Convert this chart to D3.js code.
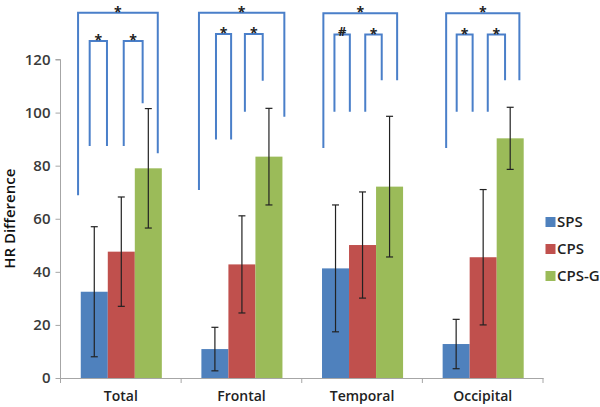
<!DOCTYPE html>
<html><head><meta charset="utf-8">
<script src="https://cdn.jsdelivr.net/npm/d3@7"></script>
<style>body{margin:0;background:#fff}svg{display:block}</style>
</head><body><svg id="c" width="600" height="407"></svg>
<script>
const categories = ["Total", "Frontal", "Temporal", "Occipital"];
const series = ["SPS", "CPS", "CPS-G"];
const colors = ["#4f81bd", "#c0504d", "#9bbb59"];
const spsValues  = [32.5, 10.9, 41.3, 12.8];
const spsErr     = [24.5, 8.2, 23.9, 9.3];
const cpsValues  = [47.6, 42.8, 50.1, 45.5];
const cpsErr     = [20.6, 18.3, 20.0, 25.5];
const cpsgValues = [79.0, 83.4, 72.1, 90.3];
const cpsgErr    = [22.5, 18.2, 26.5, 11.7];
const yTicks = [0, 20, 40, 60, 80, 100, 120];
// significance brackets: [category, from (bar index), to (bar index), top, leftEnd, rightEnd, label]
const brackets = [
  ["Total", -0.6, 2.35, 137.6, 68.9, 84.7, "*"],
  ["Total", -0.17, 0.47, 127.0, 87.4, 87.4, "*"],
  ["Total", 1.09, 1.79, 127.0, 87.4, 103.5, "*"],
  ["Frontal", -0.59, 2.57, 137.6, 70.8, 98.4, "*"],
  ["Frontal", 0.04, 0.6, 129.6, 89.9, 89.9, "*"],
  ["Frontal", 1.11, 1.77, 129.6, 100.3, 112.0, "*"],
  ["Temporal", -0.45, 2.28, 137.4, 86.7, 112.2, "*"],
  ["Temporal", -0.04, 0.53, 129.4, 100.3, 100.3, "#"],
  ["Temporal", 1.1, 1.71, 129.4, 100.3, 112.2, "*"],
  ["Occipital", -0.37, 2.34, 137.4, 86.7, 112.2, "*"],
  ["Occipital", 0.02, 0.61, 129.4, 100.3, 100.3, "*"],
  ["Occipital", 1.17, 1.81, 129.4, 100.3, 112.2, "*"]
];

const values = [spsValues, cpsValues, cpsgValues];
const errs = [spsErr, cpsErr, cpsgErr];
const svg = d3.select("#c");
const font = "'Open Sans', sans-serif";
const x0 = d3.scaleBand().domain(categories).range([60.5, 543]);
const bw = x0.bandwidth();
const x1 = d3.scaleBand().domain(series).range([bw * 0.168, bw * 0.84]);
const y = d3.scaleLinear().domain([0, 120]).range([378, 59.5]);

// y axis
const ya = svg.append("g").attr("transform", "translate(60.5,0)")
  .call(d3.axisLeft(y).tickValues(yTicks).tickSize(5).tickPadding(5));
ya.select(".domain").attr("stroke", "#a6a6a6").attr("d", `M-5,${y(120)}H0V${y(0)}`);
ya.selectAll(".tick line").attr("stroke", "#a6a6a6");
ya.selectAll(".tick text").attr("font-family", font).attr("font-size", 15)
  .attr("font-weight", 600).attr("fill", "#3a3a3a");

// bars
categories.forEach((c, ci) => {
  series.forEach((s, si) => {
    const v = values[si][ci], e = errs[si][ci];
    const bx = x0(c) + x1(s);
    svg.append("rect").attr("x", bx).attr("y", y(v)).attr("width", x1.bandwidth())
      .attr("height", y(0) - y(v)).attr("fill", colors[si]);
    const cx = bx + x1.bandwidth() / 2;
    const g = svg.append("g").attr("stroke", "#222").attr("stroke-width", 1.2);
    g.append("line").attr("x1", cx).attr("x2", cx).attr("y1", y(v + e)).attr("y2", y(v - e));
    g.append("line").attr("x1", cx - 3.5).attr("x2", cx + 3.5).attr("y1", y(v + e)).attr("y2", y(v + e));
    g.append("line").attr("x1", cx - 3.5).attr("x2", cx + 3.5).attr("y1", y(v - e)).attr("y2", y(v - e));
  });
});

// x axis
const xa = svg.append("g").attr("transform", `translate(0,${y(0)})`)
  .call(d3.axisBottom(x0).tickSize(0).tickPadding(13));
xa.select(".domain").attr("stroke", "#a6a6a6");
xa.selectAll(".tick text").attr("font-family", font).attr("font-size", 14)
  .attr("font-weight", 600).attr("fill", "#222");
const bounds = categories.map(c => x0(c)).concat([x0.range()[1]]);
xa.selectAll(".bt").data(bounds).join("line").attr("class", "bt")
  .attr("x1", d => d).attr("x2", d => d).attr("y1", 0).attr("y2", 5).attr("stroke", "#a6a6a6");

// brackets
const barPos = (c, p) => x0(c) + x1.range()[0] + (p + 0.5) * x1.step();
brackets.forEach(b => {
  const [c, a, bb, top, le, re, lab] = b;
  const xa0 = barPos(c, a), xb = barPos(c, bb);
  svg.append("path").attr("fill", "none").attr("stroke", "#4a7fc9").attr("stroke-width", 2)
    .attr("d", `M${xa0},${y(le)}V${y(top)}H${xb}V${y(re)}`);
  svg.append("text").attr("x", (xa0 + xb) / 2).attr("y", y(top) + (lab === "#" ? 1 : 4))
    .attr("text-anchor", "middle").attr("font-family", font)
    .attr("font-size", lab === "#" ? 13 : 14).attr("font-weight", 700).attr("fill", "#222")
    .text(lab);
});

// y label
svg.append("text").attr("transform", `translate(15,${y(60)}) rotate(-90)`)
  .attr("text-anchor", "middle").attr("font-family", font).attr("font-size", 15)
  .attr("font-weight", 600).attr("fill", "#111").text("HR Difference");

// legend
series.forEach((s, i) => {
  const ly = 222 + i * 27;
  svg.append("rect").attr("x", 545.5).attr("y", ly - 5).attr("width", 10).attr("height", 10).attr("fill", colors[i]);
  svg.append("text").attr("x", 557).attr("y", ly + 5).attr("font-family", font)
    .attr("font-size", 15).attr("font-weight", 600).attr("fill", "#222").text(s);
});
</script></body></html>
